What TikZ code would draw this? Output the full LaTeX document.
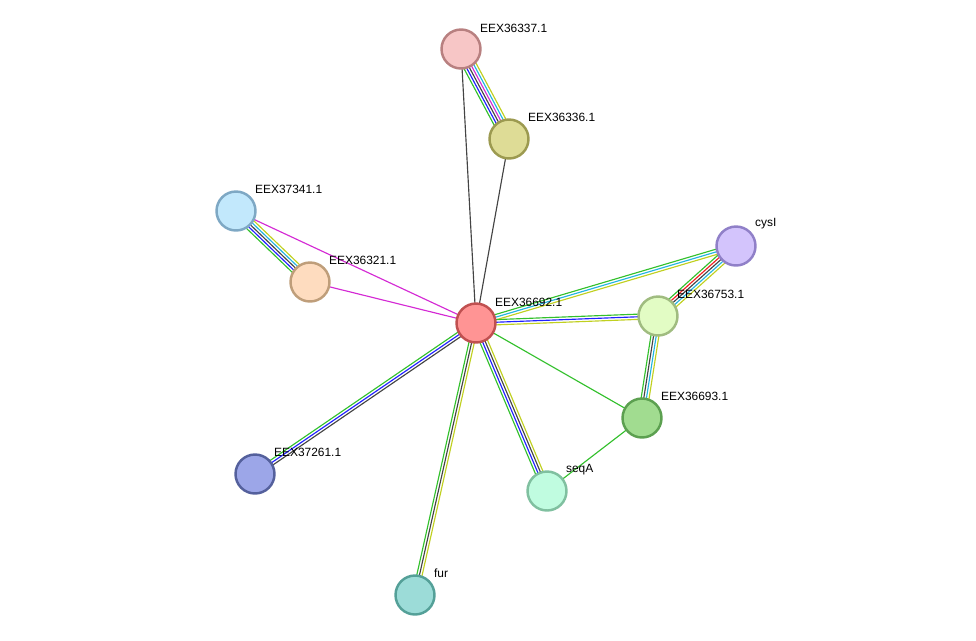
\documentclass[tikz,border=0pt]{standalone}
\usepackage{fontspec}
\setmainfont{Liberation Sans}
\usetikzlibrary{calc,backgrounds}
\definecolor{cgreen}{HTML}{33C02C}
\definecolor{cblue}{HTML}{2020FF}
\definecolor{cblack}{HTML}{444444}
\definecolor{cmag}{HTML}{D42AD4}
\definecolor{ccyan}{HTML}{22B4E0}
\definecolor{cyel}{HTML}{C0D020}
\definecolor{cred}{HTML}{F02020}
\tikzset{
  prot/.style={circle,draw,line width=1.4pt,minimum size=0.78cm,inner sep=0pt},
  lbl/.style={font=\fontsize{6.8}{8}\selectfont,inner sep=1pt,anchor=south west}
}
% #1,#2 nodes, #3 number of strands, #4 colours
\newcommand\strands[4]{%
  \foreach \c [count=\i] in {#4}{
    \pgfmathsetmacro\off{(\i-(#3+1)/2)*1.5}
    \draw[\c,line width=0.65pt] ($(#1)!\off pt!90:(#2)$) -- ($(#2)!\off pt!-90:(#1)$);
  }}

\begin{document}
\begin{tikzpicture}[x=0.02cm,y=-0.02cm]
  \useasboundingbox (0,0) rectangle (976,640);

  \node[prot,fill={rgb,255:red,255;green,148;blue,148},draw={rgb,255:red,192;green,80;blue,80}] (n36692) at (476,323) {};
  \node[prot,fill={rgb,255:red,247;green,198;blue,198},draw={rgb,255:red,184;green,128;blue,128}] (n36337) at (461,49) {};
  \node[prot,fill={rgb,255:red,222;green,220;blue,150},draw={rgb,255:red,156;green,154;blue,80}] (n36336) at (509,139) {};
  \node[prot,fill={rgb,255:red,194;green,232;blue,252},draw={rgb,255:red,126;green,168;blue,196}] (n37341) at (236,211) {};
  \node[prot,fill={rgb,255:red,254;green,220;blue,191},draw={rgb,255:red,191;green,158;blue,122}] (n36321) at (310,282) {};
  \node[prot,fill={rgb,255:red,211;green,196;blue,252},draw={rgb,255:red,144;green,128;blue,200}] (ncysI) at (736,246) {};
  \node[prot,fill={rgb,255:red,226;green,252;blue,196},draw={rgb,255:red,160;green,188;blue,128}] (n36753) at (658,316) {};
  \node[prot,fill={rgb,255:red,161;green,220;blue,144},draw={rgb,255:red,92;green,160;blue,80}] (n36693) at (642,418) {};
  \node[prot,fill={rgb,255:red,192;green,252;blue,224},draw={rgb,255:red,128;green,192;blue,160}] (nseqA) at (547,491) {};
  \node[prot,fill={rgb,255:red,156;green,166;blue,232},draw={rgb,255:red,84;green,96;blue,156}] (n37261) at (255,474) {};
  \node[prot,fill={rgb,255:red,156;green,220;blue,216},draw={rgb,255:red,84;green,160;blue,152}] (nfur) at (415,595) {};

  \node[lbl] (l36692) at (493,309) {EEX36692.1};
  \node[lbl] (l36337) at (478,35) {EEX36337.1};
  \node[lbl] (l36336) at (526,124) {EEX36336.1};
  \node[lbl] (l37341) at (253,196) {EEX37341.1};
  \node[lbl] (l36321) at (327,267) {EEX36321.1};
  \node[lbl] (lcysI) at (753,231) {cysI};
  \node[lbl] (l36753) at (675,301) {EEX36753.1};
  \node[lbl] (l36693) at (659,403) {EEX36693.1};
  \node[lbl] (lseqA) at (564,477) {seqA};
  \node[lbl] (l37261) at (272,459) {EEX37261.1};
  \node[lbl] (lfur) at (432,580) {fur};

  \begin{scope}[on background layer]
    \strands{n36692}{n36337}{1}{cblack}
    \strands{n36692}{n36336}{1}{cblack}
    \strands{n36337}{n36336}{6}{cgreen,cblue,cblack,cmag,ccyan,cyel}
    \strands{n36692}{n36321}{1}{cmag}
    \strands{n36692}{n37341}{1}{cmag}
    \strands{n37341}{n36321}{5}{cgreen,cblue,cblack,ccyan,cyel}
    \strands{n36692}{ncysI}{3}{cyel,ccyan,cgreen}
    \strands{n36692}{n36753}{3}{cyel,cblue,cgreen}
    \strands{n36753}{ncysI}{5}{cyel,ccyan,cblack,cred,cgreen}
    \strands{n36692}{n36693}{1}{cgreen}
    \strands{n36753}{n36693}{4}{cgreen,cblack,ccyan,cyel}
    \strands{n36693}{nseqA}{1}{cgreen}
    \strands{n36692}{nseqA}{4}{cgreen,cblue,cblack,cyel}
    \strands{n36692}{nfur}{3}{cgreen,cblack,cyel}
    \strands{n36692}{n37261}{3}{cgreen,cblue,cblack}
  \end{scope}
\end{tikzpicture}
\end{document}
